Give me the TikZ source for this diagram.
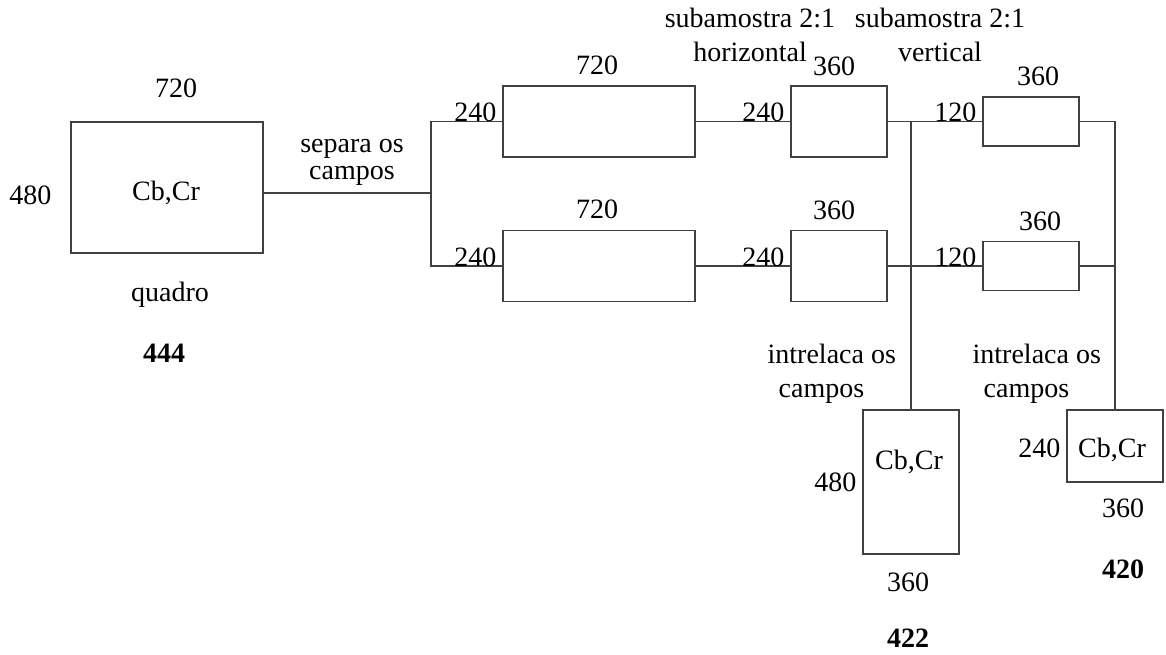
\documentclass[tikz,border=0pt]{standalone}
\usepackage{fontspec}
\setmainfont{Liberation Serif}

\definecolor{wire}{RGB}{64,64,64}

\tikzset{
  blk/.style 2 args={draw=wire, minimum width=#1, minimum height=#2,
    inner sep=0pt, outer sep=0pt},
  dim/.style={inner sep=0pt, text=black},
  note/.style={inner sep=0pt, text=black, align=center},
}

\begin{document}
\begin{tikzpicture}[x=1pt,y=-1pt]
  \useasboundingbox (0,0) rectangle (1166,655);
  \begin{scope}[line width=1.3pt,font=\fontsize{28}{34}\selectfont]
    % blocks
    \node[blk={192pt}{131pt}] (q444)  at (167,187.5) {};
    \node[blk={192pt}{71pt}]  (fldA)  at (599,121.5) {};
    \node[blk={192pt}{71pt}]  (fldB)  at (599,266)   {};
    \node[blk={96pt}{71pt}]   (hsubA) at (839,121.5) {};
    \node[blk={96pt}{71pt}]   (hsubB) at (839,266)   {};
    \node[blk={96pt}{49pt}]   (vsubA) at (1031,121.5) {};
    \node[blk={96pt}{49pt}]   (vsubB) at (1031,266)  {};
    \node[blk={96pt}{144pt}]  (f422)  at (911,482)   {};
    \node[blk={96pt}{72pt}]   (f420)  at (1115,446)  {};

    % wiring
    \coordinate (split) at (431,193);
    \coordinate (joinH) at (911,121.5);
    \draw[wire] (split -| q444.east) -- (split);
    \draw[wire] (fldA.west) -| (split) |- (fldB.west);
    \draw[wire] (fldA.east) -- (hsubA.west);
    \draw[wire] (fldB.east) -- (hsubB.west);
    \draw[wire] (hsubA.east) -- (vsubA.west);
    \draw[wire] (hsubB.east) -- (vsubB.west);
    \draw[wire] (joinH) -- (f422.north);
    \draw[wire] (vsubA.east) -| (f420.north);
    \draw[wire] (vsubB.east) -- (vsubB.east -| f420.north);

    % full frame
    \node[dim] at (176,88)  {720};
    \node[dim, anchor=east] at (52,195) {480};
    \node[dim] at (166,193) {Cb,Cr};
    \node[dim] at (170,295) {quadro};
    \node[dim] at (164,353) {\bfseries 444};
    \node[note, font=\fontsize{28}{27}\selectfont] at (352,162) {separa os\\campos};

    % fields
    \node[dim, anchor=base east] at ([xshift=-6pt]fldA.west) {240};
    \node[dim, anchor=base east] at ([xshift=-6pt]fldB.west) {240};
    \node[dim] at (597,65)  {720};
    \node[dim] at (597,209) {720};

    % 2:1 horizontal
    \node[note] at (750,35) {subamostra 2:1\\horizontal};
    \node[dim, anchor=base east] at ([xshift=-6pt]hsubA.west) {240};
    \node[dim, anchor=base east] at ([xshift=-6pt]hsubB.west) {240};
    \node[dim] at (834,66)  {360};
    \node[dim] at (834,210) {360};

    % 2:1 vertical
    \node[note] at (940,35) {subamostra 2:1\\vertical};
    \node[dim, anchor=base east] at ([xshift=-6pt]vsubA.west) {120};
    \node[dim, anchor=base east] at ([xshift=-6pt]vsubB.west) {120};
    \node[dim] at (1038,76)  {360};
    \node[dim] at (1040,221) {360};

    % 4:2:2 result
    \node[dim, align=left, anchor=west] at (767,373.5) {intrelaca os\\\hspace*{11pt}campos};
    \node[dim] at (909,462) {Cb,Cr};
    \node[dim, anchor=east] at ([xshift=-6pt]f422.west) {480};
    \node[dim] at (908,582) {360};
    \node[dim] at (908,638) {\bfseries 422};

    % 4:2:0 result
    \node[dim, align=left, anchor=west] at (972,373.5) {intrelaca os\\\hspace*{11pt}campos};
    \node[dim] at (1112,450) {Cb,Cr};
    \node[dim, anchor=east] at (1061,448) {240};
    \node[dim] at (1123,508) {360};
    \node[dim] at (1123,569) {\bfseries 420};
  \end{scope}
\end{tikzpicture}
\end{document}
